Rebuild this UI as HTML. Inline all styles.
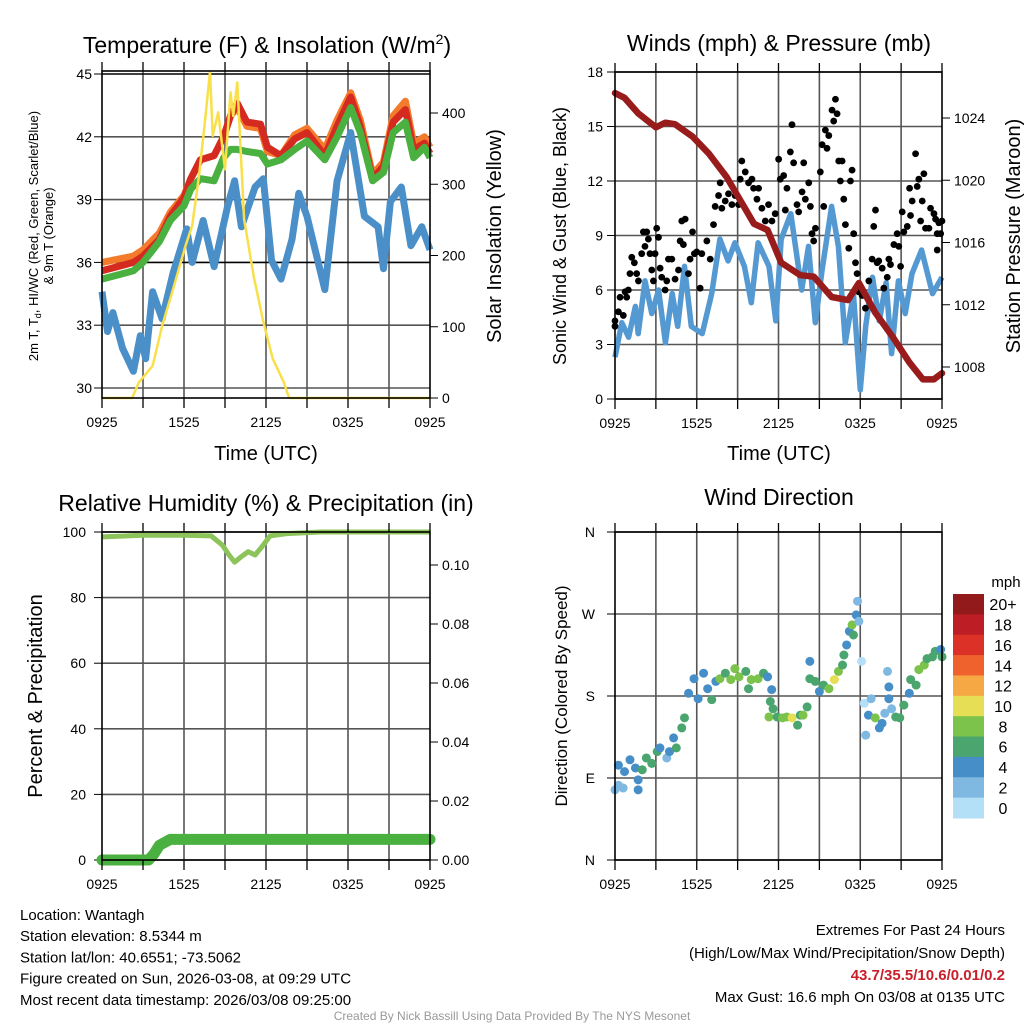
<!DOCTYPE html>
<html><head><meta charset="utf-8"><style>
body{margin:0;background:#fff;}
svg{display:block;font-family:"Liberation Sans",sans-serif;}
</style></head><body>
<svg id="c" width="1024" height="1024" viewBox="0 0 1024 1024" xmlns="http://www.w3.org/2000/svg"></svg>
<script>
// ---------- data ----------
const xTickLabels = ["0925","1525","2125","0325","0925"];
// Temperature panel
const tempTimes = [0,2.3,3.0,4.2,5.0,6.0,6.5,7.2,8.2,8.9,9.4,9.9,10.6,11.6,12.1,13.1,14.1,15.0,16.3,17.2,18.2,18.9,19.8,20.6,21.3,22.2,22.8,23.6,24];
const tempRed = [35.6,36.0,36.3,37.1,38.2,39.1,40.0,40.9,41.1,42.0,43.0,43.6,42.7,42.6,41.5,41.1,41.9,42.2,41.1,42.5,43.9,42.5,40.0,40.6,42.7,43.3,41.4,41.7,41.2];
const tempOrange = [36.0,36.3,36.6,37.4,38.4,39.2,40.0,40.9,41.1,42.0,43.0,43.4,42.5,42.4,41.3,41.1,42.1,42.4,41.4,42.8,44.1,42.8,40.2,40.8,43.0,43.7,41.7,42.0,41.5];
const tempGreen = [35.2,35.6,36.0,37.0,38.0,38.7,39.5,40.0,39.9,41.0,41.4,41.4,41.3,41.2,40.7,40.9,41.4,41.8,40.9,42.0,43.4,42.2,39.9,40.3,42.2,42.7,41.0,41.5,41.0];
const dewTimes = [0,0.4,0.8,1.5,2.3,2.8,3.2,3.7,4.4,5.2,6.2,6.6,7.4,8.2,9.2,9.7,10.2,11.2,11.8,12.4,13.1,13.9,14.4,15.0,16.3,17.2,18.2,19.2,20.2,20.6,21.1,21.9,22.6,23.4,24];
const dewBlue = [34.6,32.7,33.6,31.9,30.8,32.5,31.4,34.6,33.3,35.5,37.6,36.0,38.0,35.8,38.7,39.9,37.7,39.6,40.0,36.1,35.2,37.1,39.3,38.2,34.7,39.9,42.2,38.2,37.7,35.7,38.9,39.6,36.8,37.7,36.6];
const solarTimes = [0,2.2,2.7,3.7,4.4,5.2,6.1,6.6,7.1,7.5,7.9,8.1,8.5,9.0,9.4,9.6,9.9,10.4,11.1,11.8,12.5,13.3,13.7,24];
const solarVals = [0,0,22,45,101,153,213,242,312,382,458,368,401,321,429,396,443,251,171,107,55,22,0,0];
const tempTicks = [30,33,36,39,42,45];
const solarTicks = [0,100,200,300,400];
// Wind panel
const windTimes = [0,0.5,1.0,1.5,1.7,2.2,2.7,3.2,3.7,4.2,4.6,5.1,5.6,6.4,7.1,7.7,8.3,8.8,9.5,10.0,10.5,11.3,11.8,12.2,12.9,13.7,14.2,14.7,15.2,15.9,16.4,16.9,17.5,18.0,18.4,18.9,19.4,19.9,20.3,20.8,21.3,21.8,22.5,23.3,24];
const windSpeed = [2.3,4.2,3.4,5.1,3.6,6.5,4.7,6.0,3.1,5.8,4.0,7.3,4.0,3.6,5.8,8.8,7.6,8.6,7.3,5.3,8.6,7.3,4.3,8.8,10.2,6.0,8.4,4.2,7.1,10.6,8.4,3.1,5.8,0.5,4.0,6.7,4.3,6.4,2.5,6.5,4.7,6.9,8.2,5.8,6.7];
const gustTimes = [0,0,0.25,0.37,0.61,0.74,0.86,0.98,1.1,1.23,1.42,1.59,1.72,1.96,2.08,2.2,2.33,2.45,2.57,2.7,2.82,2.94,3.06,3.19,3.31,3.43,3.68,3.8,3.92,4.17,4.41,4.66,4.78,4.9,5.15,5.02,5.39,5.51,5.69,5.83,6.0,6.25,6.37,6.74,6.99,7.23,7.35,7.6,7.72,7.84,8.09,8.33,8.58,8.82,9.07,9.19,9.31,9.56,9.8,10.05,10.17,10.42,10.54,10.78,11.03,11.27,11.52,11.76,12.01,12.13,12.38,12.5,12.62,12.87,12.99,13.11,13.36,13.48,13.73,13.85,13.97,14.22,14.34,14.46,14.58,14.71,15.07,15.2,15.32,15.44,15.56,15.69,15.93,16.05,16.18,16.3,16.42,16.54,16.67,16.79,16.91,17.16,17.28,17.4,17.52,17.65,17.77,17.89,18.14,18.38,18.63,18.87,18.99,19.12,19.24,19.36,19.61,19.73,19.98,20.1,20.22,20.47,20.71,20.83,20.96,21.08,21.2,21.45,21.62,21.69,21.81,22.06,22.18,22.3,22.43,22.55,22.67,22.79,23.04,23.16,23.41,23.53,23.65,23.77,23.9,24.0,23.65];
const gustSpeed = [4.3,4.0,4.8,5.6,4.6,5.9,5.6,6.0,6.9,7.8,7.5,6.9,6.5,8.0,9.2,8.4,9.2,8.8,8.0,7.1,6.5,8.0,9.4,8.9,7.2,6.7,6.0,6.5,7.7,7.7,6.6,7.1,8.7,9.8,9.9,8.5,6.9,7.7,9.2,8.0,8.1,6.1,8.0,8.7,7.7,9.6,10.6,11.2,11.9,10.5,10.9,11.3,10.7,11.2,10.7,12.1,13.1,12.5,11.9,12.1,11.6,11.0,11.6,10.5,9.8,10.7,9.8,10.2,13.2,12.1,12.3,10.4,11.6,13.6,15.1,13.0,10.7,10.3,11.4,13.0,11.0,11.9,10.6,9.1,8.7,9.4,12.5,14.0,10.6,14.8,13.8,14.5,15.9,15.3,16.5,15.7,13.1,12.0,13.1,11.0,9.6,8.3,12.0,12.6,9.1,7.5,6.9,5.9,5.7,5.0,6.5,7.7,9.5,10.4,7.5,7.6,7.2,6.1,6.7,7.7,7.4,8.5,9.1,8.4,7.3,10.3,9.2,9.5,11.6,10.1,10.9,13.5,11.7,12.1,9.8,10.9,12.4,9.4,9.4,10.5,10.2,9.9,9.1,9.7,9.1,9.8,8.2];
const presTimes = [0,0.7,1.7,3.0,3.7,4.4,5.7,6.9,8.2,9.2,10.2,11.2,12.2,13.6,14.6,15.9,17.1,17.9,19.1,20.4,21.6,22.6,23.4,24];
const presVals = [1025.6,1025.3,1024.3,1023.4,1023.7,1023.6,1022.8,1021.7,1020.2,1018.7,1017.2,1016.8,1014.7,1013.9,1013.8,1012.5,1012.3,1013.4,1011.5,1009.9,1008.3,1007.2,1007.2,1007.6];
const windTicks = [0,3,6,9,12,15,18];
const presTicks = [1008,1012,1016,1020,1024];
// RH panel
const rhTimes = [0,3,6,8,8.8,9.3,9.7,10.2,10.7,11.2,11.7,12.3,13.5,16,24];
const rhVals = [98.5,99,99,98.8,96,93,90.8,92.5,94,93,95.5,98.8,99.5,100,100];
const precipTimes = [0,3.4,3.8,4.2,4.6,5.0,24];
const precipVals = [0,0,0.002,0.005,0.006,0.007,0.007];
const rhTicks = [0,20,40,60,80,100];
const precipTicks = ["0.00","0.02","0.04","0.06","0.08","0.10"];
// Wind direction panel
const dirTimes = [0,0.25,0.6,0.25,0.7,1.1,1.5,1.7,1.7,2.0,2.3,2.7,3.1,3.3,3.8,4.0,4.3,4.5,4.9,5.1,5.4,5.8,6.1,6.5,6.8,7.1,7.4,7.7,8.1,8.5,8.8,9.1,9.6,9.8,10.0,10.5,10.9,11.2,11.5,11.4,11.6,11.3,11.9,12.3,12.6,13.0,13.4,13.6,13.8,14.1,14.3,14.3,14.7,15.0,15.3,15.7,16.1,16.4,16.7,16.8,17.0,17.2,17.4,17.5,17.7,17.8,17.9,18.1,18.3,18.8,18.6,19.1,18.4,19.4,19.6,19.8,20.1,20.1,20.0,20.3,20.6,20.9,21.2,21.6,21.7,22.1,22.3,22.7,22.9,23.3,23.5,23.9,24];
const dirDeg = [77,82,79,104,97,110,101,88,77,99,112,106,119,123,112,119,134,123,145,156,183,199,177,205,188,176,196,199,205,198,210,201,207,188,198,199,205,201,187,174,166,157,157,156,157,156,148,159,159,168,218,199,196,185,192,188,198,207,214,225,236,251,258,247,269,284,262,218,172,177,159,156,137,145,150,161,177,190,207,166,157,156,170,183,198,192,209,214,221,223,229,231,223];
const dirSpeed = [3,3,2,4,4,4,4,4,4,7,7,7,7,4,3,5,5,7,7,7,5,5,5,5,5,7,5,8,7,8,8,8,7,7,8,8,7,5,5,7,7,8,7,8,8,10,7,7,8,7,5,7,7,5,7,8,10,8,7,7,5,5,8,7,5,3,3,1,1,2,5,8,2,5,5,3,5,4,3,3,7,7,7,5,7,7,8,8,7,7,7,5,7];
const dirTickLabels = ["N","E","S","W","N"];
const cbarLabels = ["20+","18","16","14","12","10","8","6","4","2","0"];
const cbarColors = ["#931a1a","#bd1d24","#dc3127","#f0622d","#f6a845","#e6df56","#7bc34a","#4aa56f","#468ec7","#7fb9e2","#b3e0f6"];

// ---------- drawing ----------
const NS="http://www.w3.org/2000/svg";
const svg=document.getElementById('c');
function el(tag,attrs,parent,text){const e=document.createElementNS(NS,tag);for(const k in attrs)e.setAttribute(k,attrs[k]);if(text!==undefined)e.textContent=text;(parent||svg).appendChild(e);return e;}
function lin(d0,d1,r0,r1){return v=>r0+(v-d0)/(d1-d0)*(r1-r0);}
function pathD(xs,ys,fx,fy){return xs.map((t,i)=>(i?'L':'M')+fx(t).toFixed(1)+' '+fy(ys[i]).toFixed(1)).join(' ');}
function frame(L,T,R,B,name){
  const g=el('g',{},svg);
  
  
  for(let i=1;i<8;i++){const x=L+(R-L)*i/8;el('line',{x1:x,y1:T,x2:x,y2:B,stroke:'#555','stroke-width':1.6},g);}
  return g;
}
function border(L,T,R,B,name){
  const r=el('rect',{x:L,y:T,width:R-L,height:B-T,fill:'none',stroke:'#000','stroke-width':1.6});
  
  
}
function xAxis(L,R,T,B,name){
  const g=el('g',{},svg);
  
  
  const fx=lin(0,24,L,R);
  xTickLabels.forEach((lab,i)=>{const x=fx(i*6);
    const t=el('text',{x:x,y:B+29,'font-size':14,'text-anchor':'middle'},g,lab);
    
    
  });
  for(let i=0;i<=8;i++){const x=L+(R-L)*i/8;el('line',{x1:x,y1:B,x2:x,y2:B+10,stroke:'#000','stroke-width':1.3},g);el('line',{x1:x,y1:T,x2:x,y2:T-9,stroke:'#000','stroke-width':1.3},g);}
}
function text(x,y,s,size,name,opts){
  const t=el('text',Object.assign({x:x,y:y,'font-size':size,'text-anchor':'middle'},opts||{}),svg,s);
  
  
  return t;
}

// ===== Panel 1: Temperature =====
(function(){
  const L=102,R=430,T=71,B=398;
  const fx=lin(0,24,L,R), fy=lin(30,45,388,74), fs=lin(0,400,398,113);
  frame(L,T,R,B,'temperature');
  tempTicks.forEach(v=>{el('line',{x1:L,y1:fy(v),x2:R,y2:fy(v),stroke:(v===36||v===45)?'#000':'#555','stroke-width':1.6});
    el('line',{x1:L-8,y1:fy(v),x2:L,y2:fy(v),stroke:'#000'});
    text(L-10,fy(v)+5,String(v),14,'temp-tick-label',{'text-anchor':'end'});});
  solarTicks.forEach(v=>{el('line',{x1:R,y1:fs(v),x2:R+8,y2:fs(v),stroke:'#000'});
    text(R+12,fs(v)+5,String(v),14,'solar-tick-label',{'text-anchor':'start'});});
  const s1=el('path',{d:pathD(dewTimes,dewBlue,fx,fy),fill:'none',stroke:'#4a8fc8','stroke-width':7,'stroke-linejoin':'round'});
  
  
  const s2=el('path',{d:pathD(tempTimes,tempOrange,fx,fy),fill:'none',stroke:'#f47a2c','stroke-width':7,'stroke-linejoin':'round'});
  
  
  const s3=el('path',{d:pathD(tempTimes,tempRed,fx,fy),fill:'none',stroke:'#d42a20','stroke-width':7,'stroke-linejoin':'round'});
  
  
  const s4=el('path',{d:pathD(tempTimes,tempGreen,fx,fy),fill:'none',stroke:'#4ab040','stroke-width':7,'stroke-linejoin':'round'});
  
  
  const s5=el('path',{d:pathD(solarTimes,solarVals,fx,fs),fill:'none',stroke:'#f9e04b','stroke-width':2.5,'stroke-linejoin':'round'});
  
  
  border(L,T,R,B,'temperature');
  xAxis(L,R,T,B,'temperature');
  const ti=text(267,53,'',23,'temperature-title');
  ti.innerHTML='Temperature (F) &amp; Insolation (W/m<tspan dy="-9" font-size="14">2</tspan><tspan dy="9">)</tspan>';
  text(266,460,'Time (UTC)',20,'temperature-x-title');
  const yl=text(0,0,'',13,'temperature-y-title',{transform:'translate(48,236) rotate(-90)'});
  yl.innerHTML='<tspan x="0" dy="-10">2m T, T<tspan font-size="9" dy="3">d</tspan><tspan dy="-3">, HI/WC (Red, Green, Scarlet/Blue)</tspan></tspan><tspan x="0" dy="15">&amp; 9m T (Orange)</tspan>';
  text(0,0,'Solar Insolation (Yellow)',20,'solar-y-title',{transform:'translate(501,236) rotate(-90)'});
})();

// ===== Panel 2: Winds =====
(function(){
  const L=615,R=942,T=72,B=399;
  const fx=lin(0,24,L,R), fy=lin(0,18,B,72), fp=lin(1008,1024,367,118);
  frame(L,T,R,B,'winds');
  windTicks.forEach(v=>{el('line',{x1:L,y1:fy(v),x2:R,y2:fy(v),stroke:'#555','stroke-width':1.6});
    el('line',{x1:L-8,y1:fy(v),x2:L,y2:fy(v),stroke:'#000'});
    text(L-12,fy(v)+5,String(v),14,'wind-tick-label',{'text-anchor':'end'});});
  presTicks.forEach(v=>{el('line',{x1:R,y1:fp(v),x2:R+8,y2:fp(v),stroke:'#000'});
    text(R+12,fp(v)+5,String(v),14,'pressure-tick-label',{'text-anchor':'start'});});
  const w=el('path',{d:pathD(windTimes,windSpeed,fx,fy),fill:'none',stroke:'#5499d2','stroke-width':5.5,'stroke-linejoin':'round'});
  
  
  const g=el('g',{},svg);
  
  
  gustTimes.forEach((t,i)=>{const c=el('circle',{cx:fx(t),cy:fy(gustSpeed[i]),r:3.4,fill:'#000'},g);
    
    });
  const p=el('path',{d:pathD(presTimes,presVals,fx,fp),fill:'none',stroke:'#981c1c','stroke-width':6.5,'stroke-linejoin':'round','stroke-linecap':'round'});
  
  
  border(L,T,R,B,'winds');
  xAxis(L,R,T,B,'winds');
  text(779,51,'Winds (mph) & Pressure (mb)',23,'winds-title');
  text(779,460,'Time (UTC)',20,'winds-x-title');
  text(0,0,'Sonic Wind & Gust (Blue, Black)',18,'wind-y-title',{transform:'translate(566,236) rotate(-90)'});
  text(0,0,'Station Pressure (Maroon)',20,'pressure-y-title',{transform:'translate(1020,236) rotate(-90)'});
})();

// ===== Panel 3: RH =====
(function(){
  const L=102,R=430,T=532,B=860;
  const fx=lin(0,24,L,R), fy=lin(0,100,B,532), fp=lin(0,0.1,B,565);
  frame(L,T,R,B,'humidity');
  rhTicks.forEach(v=>{el('line',{x1:L,y1:fy(v),x2:R,y2:fy(v),stroke:'#555','stroke-width':1.6});
    el('line',{x1:L-8,y1:fy(v),x2:L,y2:fy(v),stroke:'#000'});
    text(L-16,fy(v)+5,String(v),14,'rh-tick-label',{'text-anchor':'end'});});
  precipTicks.forEach(v=>{const y=fp(parseFloat(v));el('line',{x1:R,y1:y,x2:R+8,y2:y,stroke:'#000'});
    text(R+12,y+5,v,14,'precip-tick-label',{'text-anchor':'start'});});
  const rh=el('path',{d:pathD(rhTimes,rhVals,fx,fy),fill:'none',stroke:'#8cc35a','stroke-width':5,'stroke-linejoin':'round'});
  
  
  const pr=el('path',{d:pathD(precipTimes,precipVals,fx,fp),fill:'none',stroke:'#4ab040','stroke-width':11,'stroke-linejoin':'round','stroke-linecap':'round'});
  
  
  border(L,T,R,B,'humidity');
  xAxis(L,R,T,B,'humidity');
  text(266,511,'Relative Humidity (%) & Precipitation (in)',23,'humidity-title');
  text(0,0,'Percent & Precipitation',20,'humidity-y-title',{transform:'translate(42,696) rotate(-90)'});
})();

// ===== Panel 4: Wind direction =====
(function(){
  const L=615,R=942,T=532,B=860;
  const fx=lin(0,24,L,R), fy=lin(0,360,B,532);
  frame(L,T,R,B,'direction');
  dirTickLabels.forEach((lab,i)=>{const y=fy(i*90);el('line',{x1:L,y1:y,x2:R,y2:y,stroke:'#555','stroke-width':1.6});
    el('line',{x1:L-8,y1:y,x2:L,y2:y,stroke:'#000'});
    text(L-20,y+5,lab,14,'direction-tick-label',{'text-anchor':'end'});});
  const g=el('g',{},svg);
  
  
  dirTimes.forEach((t,i)=>{const k=Math.min(10,Math.floor(dirSpeed[i]/2));
    const c=el('circle',{cx:fx(t),cy:fy(dirDeg[i]),r:4.5,fill:cbarColors[10-k]},g);
    
    });
  border(L,T,R,B,'direction');
  xAxis(L,R,T,B,'direction');
  text(779,505,'Wind Direction',23,'direction-title');
  text(0,0,'Direction (Colored By Speed)',17,'direction-y-title',{transform:'translate(567,696) rotate(-90)'});
  const cb=el('g',{},svg);
  
  
  const h=224/11;
  cbarColors.forEach((c,i)=>{el('rect',{x:953,y:594+i*h,width:31,height:h+0.5,fill:c},cb);
    const t=el('text',{x:1003,y:594+i*h+h/2+6,'font-size':16,'text-anchor':'middle'},cb,cbarLabels[i]);
    
    });
  const u=el('text',{x:1006,y:587,'font-size':15,'text-anchor':'middle'},cb,'mph');
  
  
})();

// ===== Footer =====
const info=["Location: Wantagh","Station elevation: 8.5344 m","Station lat/lon: 40.6551; -73.5062","Figure created on Sun, 2026-03-08, at 09:29 UTC","Most recent data timestamp: 2026/03/08 09:25:00"];
info.forEach((s,i)=>text(20,920+i*21.2,s,15,'station-info-line',{'text-anchor':'start'}));
text(1005,935,'Extremes For Past 24 Hours',15,'extremes-title',{'text-anchor':'end'});
text(1005,958,'(High/Low/Max Wind/Precipitation/Snow Depth)',15,'extremes-subtitle',{'text-anchor':'end'});
text(1005,980,'43.7/35.5/10.6/0.01/0.2',15,'extremes-values',{'text-anchor':'end',fill:'#c8202a','font-weight':'bold'});
text(1005,1002,'Max Gust: 16.6 mph On 03/08 at 0135 UTC',15,'max-gust',{'text-anchor':'end'});
text(512,1020,'Created By Nick Bassill Using Data Provided By The NYS Mesonet',12,'credit',{fill:'#999'});
</script>
</body></html>
